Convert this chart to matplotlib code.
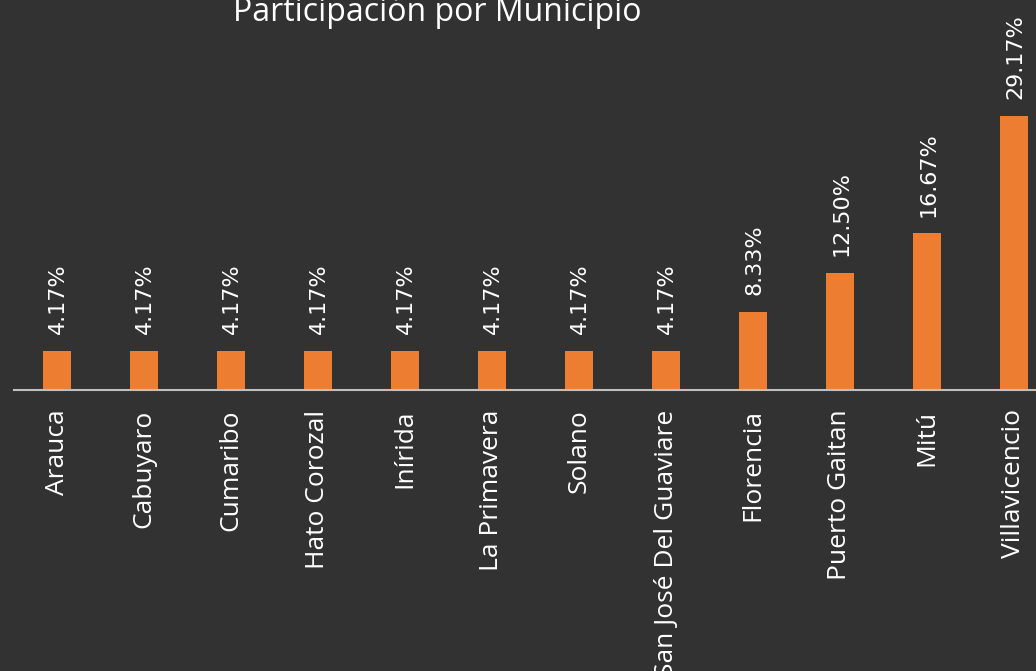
import numpy as np
import matplotlib
matplotlib.use("Agg")
import matplotlib.pyplot as plt

municipios = ['Arauca', 'Cabuyaro', 'Cumaribo', 'Hato Corozal', 'Inírida',
              'La Primavera', 'Solano', 'San José Del Guaviare', 'Florencia',
              'Puerto Gaitan', 'Mitú', 'Villavicencio']
participacion = [4.17, 4.17, 4.17, 4.17, 4.17, 4.17, 4.17, 4.17, 8.33, 12.50, 16.67, 29.17]

bg = '#323232'
naranja = '#ED7D31'

fig = plt.figure(figsize=(10.36, 6.71), dpi=100, facecolor=bg)
ax = fig.add_axes([13.5 / 1036, 281 / 671, 1044 / 1036, 282 / 671])
ax.set_facecolor(bg)

x = np.arange(len(municipios))
bars = ax.bar(x, participacion, width=0.32, color=naranja)
ax.set_xlim(-0.5, len(municipios) - 0.5)
ax.set_ylim(0, 30)

# etiquetas de porcentaje sobre cada barra
for b, v in zip(bars, participacion):
    ax.annotate(f'{v:.2f}%', (b.get_x() + b.get_width() / 2, v),
                xytext=(1, 12), textcoords='offset points',
                rotation=90, ha='center', va='bottom', color='white',
                fontsize=16, family='DejaVu Sans', annotation_clip=False)

ax.set_xticks(x)
ax.set_xticklabels(municipios, rotation=90, color='white', fontsize=19,
                   family='Open Sans', va='top')
ax.tick_params(axis='x', length=0, pad=14)
ax.set_yticks([])
for s in ['top', 'right', 'left']:
    ax.spines[s].set_visible(False)
ax.spines['bottom'].set_color('#BFBFBF')
ax.spines['bottom'].set_linewidth(1.5)

fig.text(437 / 1036, (671 - 21) / 671, 'Participación por Municipio',
         ha='center', va='baseline', color='white', fontsize=23, family='Open Sans')

fig.savefig('out.png', dpi=100, facecolor=bg)
